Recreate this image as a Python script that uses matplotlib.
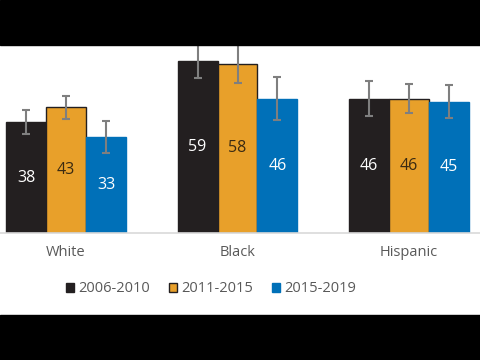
import matplotlib.pyplot as plt
import numpy as np
from matplotlib.patches import Rectangle

plt.rcParams['font.family'] = ['Open Sans', 'DejaVu Sans']

groups = ['White', 'Black', 'Hispanic']
periods = ['2006-2010', '2011-2015', '2015-2019']
values = [[38, 59, 46],     # 2006-2010
          [43, 58, 46],     # 2011-2015
          [33, 46, 45]]     # 2015-2019
errors = [[4, 5.8, 6],
          [4, 6.7, 5],
          [5.5, 7.4, 5.6]]
colors = ['#231F20', '#E8A02A', '#0070B8']
edges = ['#231F20', '#231F20', '#0070B8']
text_colors = ['white', '#3A2A12', 'white']

fig = plt.figure(figsize=(4.8, 3.6), dpi=100)
ax = fig.add_axes([0, 127 / 360, 1, 233 / 360])

x = np.arange(len(groups))
w = 0.233
for i in range(3):
    pos = x + (i - 1) * w
    ax.bar(pos, values[i], width=w, color=colors[i], edgecolor=edges[i],
           linewidth=1.0, label=periods[i], zorder=2)
    ax.errorbar(pos, values[i], yerr=errors[i], fmt='none', ecolor='#7F7F7F',
                elinewidth=1.5, capsize=3, capthick=1.5, zorder=3)
    for p, v in zip(pos, values[i]):
        ax.text(p, v / 2, str(v), ha='center', va='center', fontsize=11.5,
                color=text_colors[i], zorder=4)

ax.set_xlim(-0.385, 2.414)
ax.set_ylim(0, 79.8)
ax.set_yticks([])
ax.set_xticks([])
for s in ['top', 'left', 'right']:
    ax.spines[s].set_visible(False)
ax.spines['bottom'].set_color('#D9D9D9')
ax.spines['bottom'].set_linewidth(1.2)

for xi, g in zip(x, groups):
    ax.text(xi, -20 / 2.92, g, ha='center', va='center', fontsize=10.5,
            color='#595959', clip_on=False)

ax.legend(loc='center', bbox_to_anchor=(0.44, -56 / 233), ncol=3,
          frameon=False, fontsize=10.5, handlelength=0.55, handleheight=0.55,
          handletextpad=0.3, columnspacing=1.3, labelcolor='#595959')

# black letterbox bands
fig.patches.append(Rectangle((0, 1 - 45 / 360), 1, 45 / 360, transform=fig.transFigure,
                             color='black', zorder=10))
fig.patches.append(Rectangle((0, 0), 1, 45 / 360, transform=fig.transFigure,
                             color='black', zorder=10))

fig.savefig('out.png', dpi=100)
